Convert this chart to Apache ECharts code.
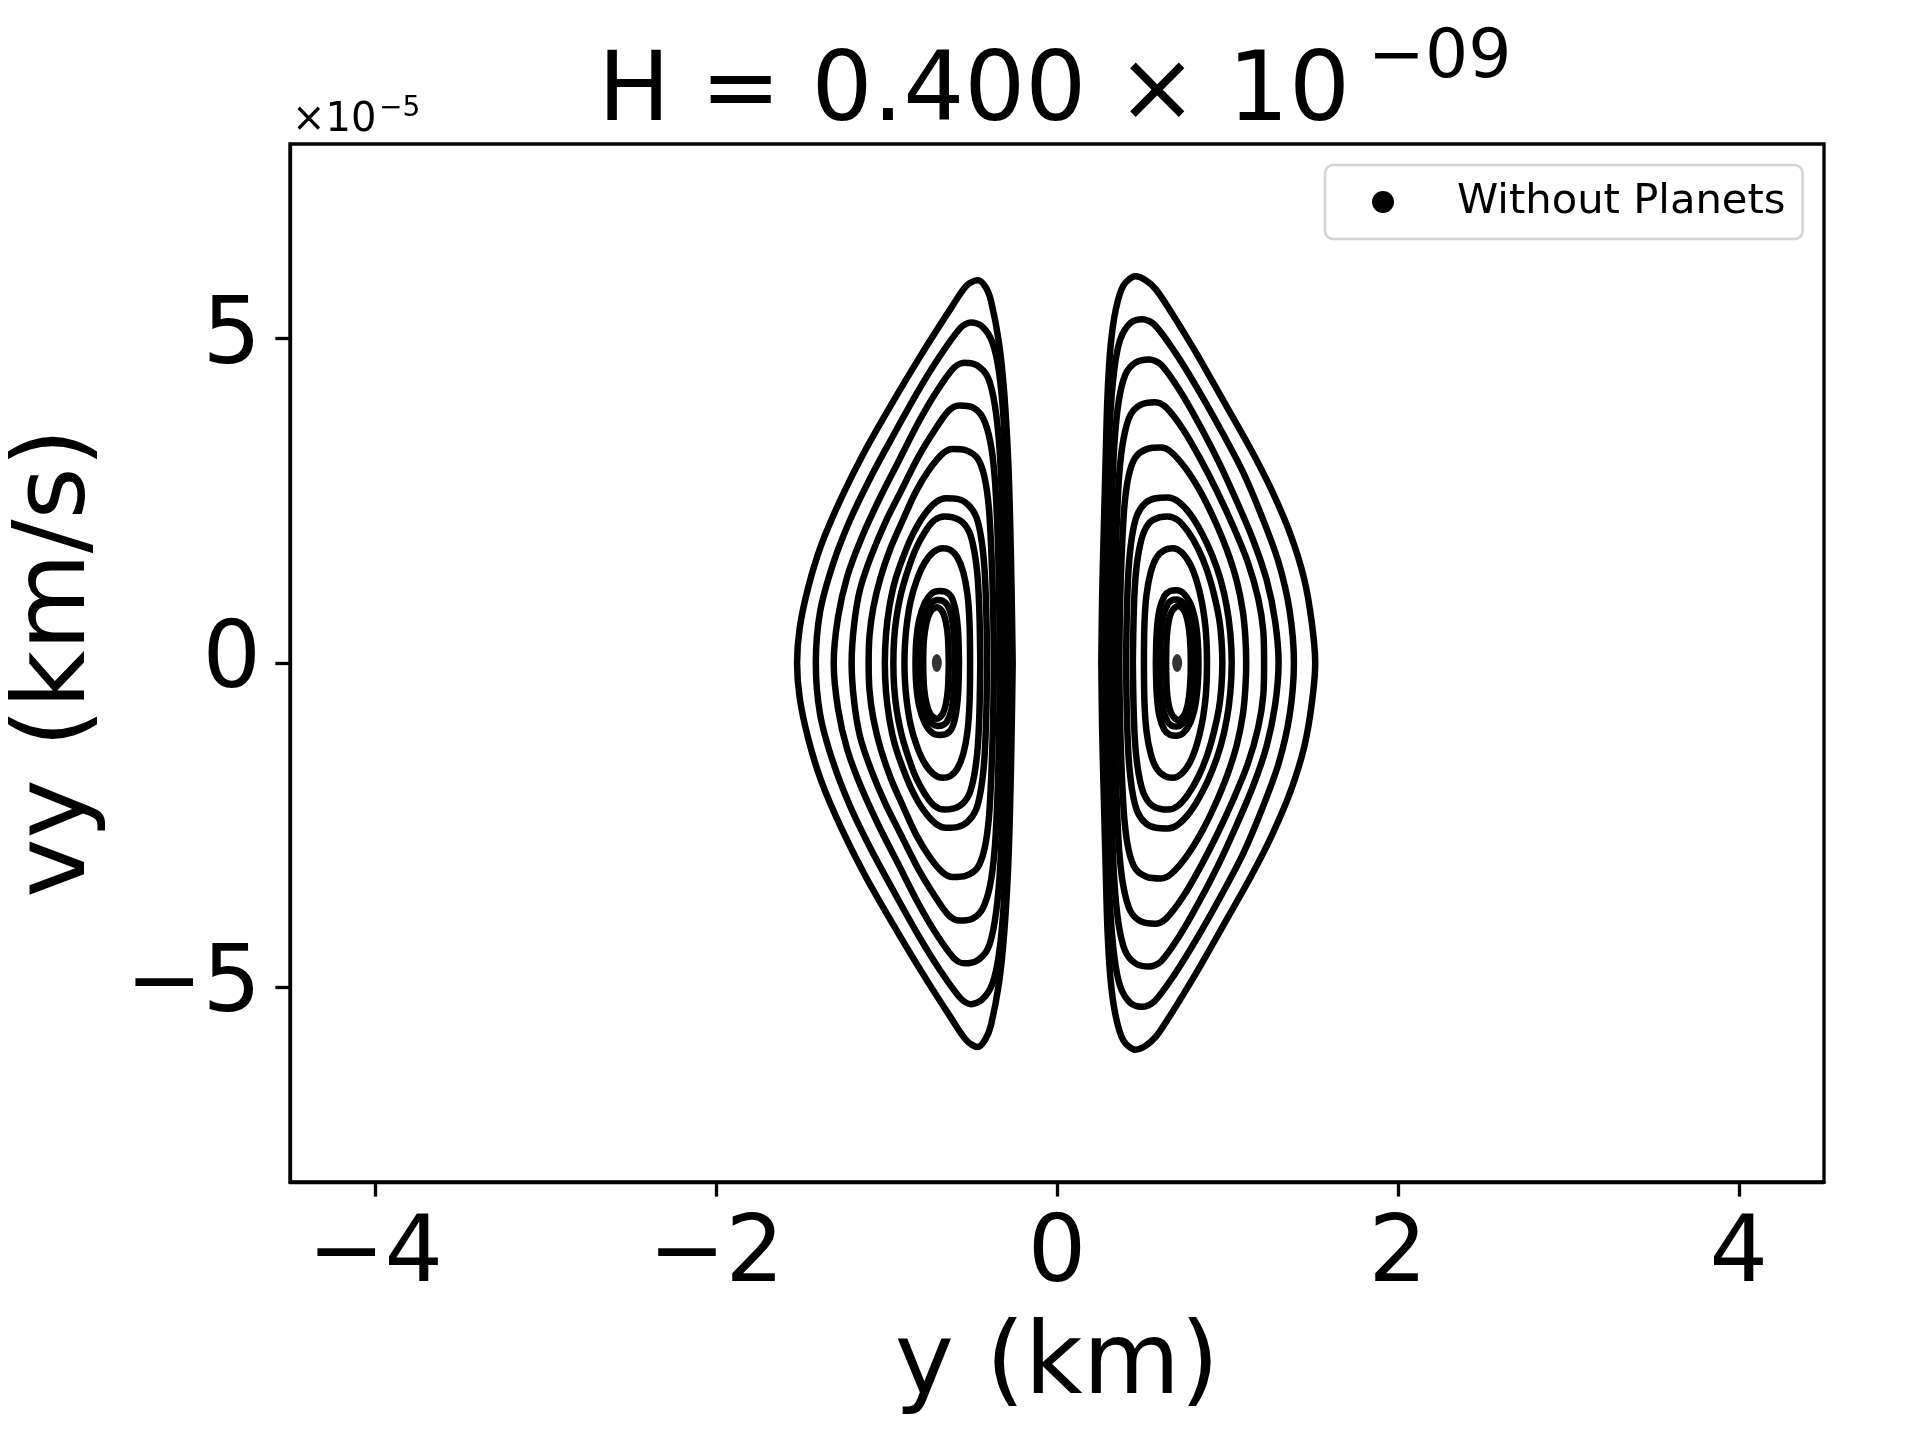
<!DOCTYPE html>
<html>
<head>
<meta charset="utf-8">
<script src="https://cdn.jsdelivr.net/npm/echarts@6/dist/echarts.min.js"></script>
<style>html,body{margin:0;padding:0;background:#fff;}#chart{width:1920px;height:1440px;}</style>
</head>
<body>
<div id="chart"></div>
<script>
// ---- data (y in km, vy in units of 1e-5 km/s) ----
const xTicks = [-4, -2, 0, 2, 4];
const yTicks = [-5, 0, 5];
const seriesName = 'Without Planets';
const titleMain = 'H = 0.400 × 10';
const titleExp = '−09';
const offsetMain = '×10';
const offsetExp = '−5';

const rightLoop1 = [[0.26,0],[0.265,1.05],[0.275,2.1],[0.285,3.1],[0.296,4.1],[0.315,4.9],[0.345,5.45],[0.39,5.82],[0.46,5.96],[0.52,5.9],[0.58,5.76],[0.66,5.45],[0.75,5.07],[0.83,4.72],[0.99,3.98],[1.14,3.28],[1.26,2.66],[1.37,1.98],[1.45,1.3],[1.495,0.62],[1.515,0],[1.495,-0.62],[1.45,-1.3],[1.37,-1.98],[1.26,-2.66],[1.14,-3.28],[0.99,-3.98],[0.83,-4.72],[0.75,-5.07],[0.66,-5.45],[0.58,-5.76],[0.52,-5.9],[0.46,-5.96],[0.39,-5.82],[0.345,-5.45],[0.315,-4.9],[0.296,-4.1],[0.285,-3.1],[0.275,-2.1],[0.265,-1.05],[0.26,0]];
const rightLoop2 = [[0.28,0],[0.285,1.3],[0.295,2.6],[0.31,3.7],[0.335,4.5],[0.37,4.98],[0.43,5.24],[0.5,5.3],[0.57,5.22],[0.69,4.8],[0.82,4.25],[0.96,3.6],[1.09,2.95],[1.2,2.27],[1.3,1.55],[1.365,0.8],[1.39,0],[1.365,-0.8],[1.3,-1.55],[1.2,-2.27],[1.09,-2.95],[0.96,-3.6],[0.82,-4.25],[0.69,-4.8],[0.57,-5.22],[0.5,-5.3],[0.43,-5.24],[0.37,-4.98],[0.335,-4.5],[0.31,-3.7],[0.295,-2.6],[0.285,-1.3],[0.28,0]];
const rightLoop3 = [[0.305,0],[0.31,1.2],[0.32,2.3],[0.335,3.3],[0.36,4.0],[0.4,4.44],[0.46,4.63],[0.54,4.68],[0.61,4.6],[0.72,4.2],[0.83,3.7],[0.945,3.12],[1.05,2.52],[1.15,1.9],[1.23,1.28],[1.28,0.64],[1.3,0],[1.28,-0.64],[1.23,-1.28],[1.15,-1.9],[1.05,-2.52],[0.945,-3.12],[0.83,-3.7],[0.72,-4.2],[0.61,-4.6],[0.54,-4.68],[0.46,-4.63],[0.4,-4.44],[0.36,-4.0],[0.335,-3.3],[0.32,-2.3],[0.31,-1.2],[0.305,0]];
const rightLoop4 = [[0.335,0],[0.34,1.1],[0.35,2.1],[0.365,2.9],[0.39,3.45],[0.43,3.82],[0.49,3.98],[0.575,4.02],[0.64,3.94],[0.74,3.6],[0.84,3.15],[0.94,2.64],[1.035,2.1],[1.12,1.55],[1.18,1.0],[1.21,0.5],[1.215,0],[1.21,-0.5],[1.18,-1.0],[1.12,-1.55],[1.035,-2.1],[0.94,-2.64],[0.84,-3.15],[0.74,-3.6],[0.64,-3.94],[0.575,-4.02],[0.49,-3.98],[0.43,-3.82],[0.39,-3.45],[0.365,-2.9],[0.35,-2.1],[0.34,-1.1],[0.335,0]];
const rightLoop5 = [[0.365,0],[0.37,0.9],[0.38,1.7],[0.395,2.4],[0.42,2.88],[0.46,3.17],[0.53,3.3],[0.61,3.32],[0.67,3.25],[0.76,2.98],[0.85,2.6],[0.93,2.17],[1.0,1.72],[1.055,1.26],[1.09,0.8],[1.105,0.4],[1.11,0],[1.105,-0.4],[1.09,-0.8],[1.055,-1.26],[1.0,-1.72],[0.93,-2.17],[0.85,-2.6],[0.76,-2.98],[0.67,-3.25],[0.61,-3.32],[0.53,-3.3],[0.46,-3.17],[0.42,-2.88],[0.395,-2.4],[0.38,-1.7],[0.37,-0.9],[0.365,0]];
const rightLoop6 = [[0.405,0],[0.41,0.8],[0.42,1.45],[0.44,1.95],[0.47,2.28],[0.52,2.47],[0.58,2.54],[0.65,2.55],[0.71,2.49],[0.78,2.3],[0.85,2.0],[0.91,1.66],[0.96,1.28],[0.995,0.88],[1.017,0.45],[1.025,0],[1.017,-0.45],[0.995,-0.88],[0.96,-1.28],[0.91,-1.66],[0.85,-2.0],[0.78,-2.3],[0.71,-2.49],[0.65,-2.55],[0.58,-2.54],[0.52,-2.47],[0.47,-2.28],[0.44,-1.95],[0.42,-1.45],[0.41,-0.8],[0.405,0]];
const rightLoop7 = [[0.445,0],[0.45,0.75],[0.46,1.3],[0.48,1.72],[0.51,2.02],[0.56,2.2],[0.65,2.26],[0.71,2.2],[0.77,2.02],[0.83,1.75],[0.88,1.43],[0.92,1.07],[0.95,0.7],[0.965,0.35],[0.97,0],[0.965,-0.35],[0.95,-0.7],[0.92,-1.07],[0.88,-1.43],[0.83,-1.75],[0.77,-2.02],[0.71,-2.2],[0.65,-2.26],[0.56,-2.2],[0.51,-2.02],[0.48,-1.72],[0.46,-1.3],[0.45,-0.75],[0.445,0]];
const rightLoop8 = [[0.51,0],[0.513,0.6],[0.525,1.05],[0.55,1.4],[0.585,1.63],[0.63,1.74],[0.68,1.77],[0.73,1.71],[0.78,1.53],[0.82,1.26],[0.85,0.94],[0.87,0.58],[0.878,0.28],[0.88,0],[0.878,-0.28],[0.87,-0.58],[0.85,-0.94],[0.82,-1.26],[0.78,-1.53],[0.73,-1.71],[0.68,-1.77],[0.63,-1.74],[0.585,-1.63],[0.55,-1.4],[0.525,-1.05],[0.513,-0.6],[0.51,0]];
const rightLoop9 = [[0.58,0],[0.585,0.47],[0.6,0.81],[0.63,1.03],[0.665,1.11],[0.7,1.12],[0.74,1.08],[0.78,0.93],[0.81,0.67],[0.825,0.36],[0.83,0],[0.825,-0.36],[0.81,-0.67],[0.78,-0.93],[0.74,-1.08],[0.7,-1.12],[0.665,-1.11],[0.63,-1.03],[0.6,-0.81],[0.585,-0.47],[0.58,0]];
const rightLoop10 = [[0.605,0],[0.61,0.44],[0.625,0.73],[0.65,0.91],[0.675,0.97],[0.7,0.98],[0.735,0.94],[0.77,0.79],[0.795,0.54],[0.807,0.27],[0.81,0],[0.807,-0.27],[0.795,-0.54],[0.77,-0.79],[0.735,-0.94],[0.7,-0.98],[0.675,-0.97],[0.65,-0.91],[0.625,-0.73],[0.61,-0.44],[0.605,0]];
const rightLoop11 = [[0.64,0],[0.644,0.4],[0.655,0.64],[0.675,0.8],[0.71,0.88],[0.745,0.81],[0.767,0.64],[0.78,0.38],[0.785,0],[0.78,-0.38],[0.767,-0.64],[0.745,-0.81],[0.71,-0.88],[0.675,-0.8],[0.655,-0.64],[0.644,-0.4],[0.64,0]];

const leftLoop1 = [[-0.26,0],[-0.266,1.05],[-0.274,2.08],[-0.286,3.11],[-0.309,4.14],[-0.339,4.91],[-0.387,5.58],[-0.42,5.8],[-0.465,5.9],[-0.53,5.82],[-0.622,5.47],[-0.797,4.75],[-0.973,3.98],[-1.129,3.26],[-1.266,2.54],[-1.383,1.82],[-1.461,1.15],[-1.51,0.53],[-1.525,0],[-1.51,-0.53],[-1.461,-1.15],[-1.383,-1.82],[-1.266,-2.54],[-1.129,-3.26],[-0.973,-3.98],[-0.797,-4.75],[-0.622,-5.47],[-0.53,-5.82],[-0.465,-5.92],[-0.42,-5.8],[-0.387,-5.58],[-0.339,-4.91],[-0.309,-4.14],[-0.286,-3.11],[-0.274,-2.08],[-0.266,-1.05],[-0.26,0]];
const leftLoop2 = [[-0.28,0],[-0.285,1.3],[-0.296,2.6],[-0.312,3.7],[-0.34,4.48],[-0.38,4.95],[-0.44,5.19],[-0.504,5.25],[-0.565,5.17],[-0.69,4.72],[-0.815,4.19],[-0.96,3.51],[-1.09,2.88],[-1.215,2.2],[-1.315,1.52],[-1.39,0.79],[-1.415,0],[-1.39,-0.79],[-1.315,-1.52],[-1.215,-2.2],[-1.09,-2.88],[-0.96,-3.51],[-0.815,-4.19],[-0.69,-4.72],[-0.565,-5.17],[-0.504,-5.26],[-0.44,-5.19],[-0.38,-4.95],[-0.34,-4.48],[-0.312,-3.7],[-0.296,-2.6],[-0.285,-1.3],[-0.28,0]];
const leftLoop3 = [[-0.305,0],[-0.31,1.2],[-0.32,2.3],[-0.337,3.3],[-0.365,3.98],[-0.405,4.4],[-0.47,4.59],[-0.543,4.63],[-0.605,4.55],[-0.71,4.17],[-0.815,3.7],[-0.935,3.08],[-1.04,2.54],[-1.145,1.94],[-1.23,1.34],[-1.285,0.7],[-1.31,0],[-1.285,-0.7],[-1.23,-1.34],[-1.145,-1.94],[-1.04,-2.54],[-0.935,-3.08],[-0.815,-3.7],[-0.71,-4.17],[-0.605,-4.55],[-0.543,-4.63],[-0.47,-4.59],[-0.405,-4.4],[-0.365,-3.98],[-0.337,-3.3],[-0.32,-2.3],[-0.31,-1.2],[-0.305,0]];
const leftLoop4 = [[-0.335,0],[-0.34,1.1],[-0.35,2.1],[-0.366,2.88],[-0.392,3.42],[-0.435,3.78],[-0.495,3.94],[-0.573,3.97],[-0.635,3.89],[-0.72,3.58],[-0.815,3.17],[-0.915,2.65],[-1.005,2.18],[-1.09,1.65],[-1.155,1.14],[-1.19,0.6],[-1.205,0],[-1.19,-0.6],[-1.155,-1.14],[-1.09,-1.65],[-1.005,-2.18],[-0.915,-2.65],[-0.815,-3.17],[-0.72,-3.58],[-0.635,-3.89],[-0.573,-3.97],[-0.495,-3.94],[-0.435,-3.78],[-0.392,-3.42],[-0.366,-2.88],[-0.35,-2.1],[-0.34,-1.1],[-0.335,0]];
const leftLoop5 = [[-0.37,0],[-0.375,0.9],[-0.385,1.7],[-0.4,2.4],[-0.425,2.86],[-0.465,3.15],[-0.535,3.28],[-0.612,3.3],[-0.67,3.23],[-0.75,2.98],[-0.83,2.63],[-0.905,2.2],[-0.975,1.78],[-1.035,1.32],[-1.078,0.85],[-1.1,0.42],[-1.105,0],[-1.1,-0.42],[-1.078,-0.85],[-1.035,-1.32],[-0.975,-1.78],[-0.905,-2.2],[-0.83,-2.63],[-0.75,-2.98],[-0.67,-3.23],[-0.612,-3.3],[-0.535,-3.28],[-0.465,-3.15],[-0.425,-2.86],[-0.4,-2.4],[-0.385,-1.7],[-0.375,-0.9],[-0.37,0]];
const leftLoop6 = [[-0.41,0],[-0.415,0.8],[-0.425,1.44],[-0.445,1.93],[-0.475,2.26],[-0.525,2.45],[-0.585,2.53],[-0.651,2.54],[-0.71,2.48],[-0.78,2.28],[-0.845,1.99],[-0.9,1.65],[-0.95,1.27],[-0.983,0.87],[-1.003,0.45],[-1.01,0],[-1.003,-0.45],[-0.983,-0.87],[-0.95,-1.27],[-0.9,-1.65],[-0.845,-1.99],[-0.78,-2.28],[-0.71,-2.48],[-0.651,-2.54],[-0.585,-2.53],[-0.525,-2.45],[-0.475,-2.26],[-0.445,-1.93],[-0.425,-1.44],[-0.415,-0.8],[-0.41,0]];
const leftLoop7 = [[-0.45,0],[-0.455,0.75],[-0.465,1.3],[-0.485,1.72],[-0.515,2.02],[-0.57,2.2],[-0.66,2.26],[-0.72,2.2],[-0.775,2.02],[-0.83,1.75],[-0.875,1.43],[-0.915,1.07],[-0.942,0.7],[-0.956,0.35],[-0.96,0],[-0.956,-0.35],[-0.942,-0.7],[-0.915,-1.07],[-0.875,-1.43],[-0.83,-1.75],[-0.775,-2.02],[-0.72,-2.2],[-0.66,-2.26],[-0.57,-2.2],[-0.515,-2.02],[-0.485,-1.72],[-0.465,-1.3],[-0.455,-0.75],[-0.45,0]];
const leftLoop8 = [[-0.51,0],[-0.513,0.6],[-0.525,1.05],[-0.55,1.4],[-0.585,1.63],[-0.625,1.74],[-0.67,1.77],[-0.725,1.71],[-0.78,1.53],[-0.825,1.26],[-0.86,0.94],[-0.882,0.58],[-0.892,0.28],[-0.895,0],[-0.892,-0.28],[-0.882,-0.58],[-0.86,-0.94],[-0.825,-1.26],[-0.78,-1.53],[-0.725,-1.71],[-0.67,-1.77],[-0.625,-1.74],[-0.585,-1.63],[-0.55,-1.4],[-0.525,-1.05],[-0.513,-0.6],[-0.51,0]];
const leftLoop9 = [[-0.575,0],[-0.58,0.47],[-0.595,0.81],[-0.62,1.02],[-0.655,1.1],[-0.69,1.11],[-0.735,1.07],[-0.775,0.93],[-0.808,0.67],[-0.825,0.36],[-0.83,0],[-0.825,-0.36],[-0.808,-0.67],[-0.775,-0.93],[-0.735,-1.07],[-0.69,-1.11],[-0.655,-1.1],[-0.62,-1.02],[-0.595,-0.81],[-0.58,-0.47],[-0.575,0]];
const leftLoop10 = [[-0.6,0],[-0.605,0.44],[-0.62,0.73],[-0.645,0.9],[-0.672,0.96],[-0.7,0.97],[-0.735,0.93],[-0.77,0.78],[-0.795,0.54],[-0.807,0.27],[-0.81,0],[-0.807,-0.27],[-0.795,-0.54],[-0.77,-0.78],[-0.735,-0.93],[-0.7,-0.97],[-0.672,-0.96],[-0.645,-0.9],[-0.62,-0.73],[-0.605,-0.44],[-0.6,0]];
const leftLoop11 = [[-0.635,0],[-0.64,0.4],[-0.652,0.63],[-0.672,0.79],[-0.705,0.86],[-0.74,0.8],[-0.765,0.63],[-0.78,0.38],[-0.785,0],[-0.78,-0.38],[-0.765,-0.63],[-0.74,-0.8],[-0.705,-0.86],[-0.672,-0.79],[-0.652,-0.63],[-0.64,-0.4],[-0.635,0]];

const fixedPoints = [[-0.705, 0], [0.705, 0]];

const loops = [rightLoop1, rightLoop2, rightLoop3, rightLoop4, rightLoop5, rightLoop6, rightLoop7, rightLoop8, rightLoop9, rightLoop10, rightLoop11,
  leftLoop1, leftLoop2, leftLoop3, leftLoop4, leftLoop5, leftLoop6, leftLoop7, leftLoop8, leftLoop9, leftLoop10, leftLoop11];

// ---- chart ----
const FONT = '"DejaVu Sans", "Liberation Sans", sans-serif';
const minusFmt = v => (v < 0 ? '−' + Math.abs(v) : String(v));

const series = loops.map((d) => ({
  type: 'line',
  name: seriesName,
  data: d,
  smooth: 0.3,
  showSymbol: false,
  symbol: 'circle',
  silent: true,
  clip: true,
  itemStyle: { color: '#000' },
  lineStyle: { color: '#000', width: 6.5 },
  z: 3
}));
series.push({
  type: 'scatter',
  name: seriesName,
  data: fixedPoints,
  symbol: 'circle',
  symbolSize: [10, 18],
  itemStyle: { color: '#000' },
  silent: true,
  z: 4
});

const chart = echarts.init(document.getElementById('chart'), null, { renderer: 'canvas', width: 1920, height: 1440 });
chart.setOption({
  animation: false,
  backgroundColor: '#fff',
  color: ['#000'],
  grid: { left: 289, right: 96, top: 144, bottom: 258, show: true, borderColor: '#000', borderWidth: 3.3, backgroundColor: 'transparent' },
  xAxis: {
    type: 'value', min: -4.5, max: 4.5,
    name: 'y (km)', nameLocation: 'middle', nameGap: 135,
    nameTextStyle: { fontSize: 100, fontFamily: FONT, color: '#000' },
    axisLine: { show: true, onZero: false, lineStyle: { color: '#000', width: 3.3 } },
    axisTick: { show: true, inside: false, length: 14.6, lineStyle: { color: '#000', width: 3.3 }, customValues: xTicks },
    axisLabel: { show: true, customValues: xTicks, formatter: minusFmt, fontSize: 92, fontFamily: FONT, color: '#000', margin: 29 },
    splitLine: { show: false }
  },
  yAxis: {
    type: 'value', min: -8, max: 8,
    name: 'vy (km/s)', nameLocation: 'middle', nameGap: 182, nameRotate: 90,
    nameTextStyle: { fontSize: 100, fontFamily: FONT, color: '#000' },
    axisLine: { show: true, onZero: false, lineStyle: { color: '#000', width: 3.3 } },
    axisTick: { show: true, inside: false, length: 14.6, lineStyle: { color: '#000', width: 3.3 }, customValues: yTicks },
    axisLabel: { show: true, customValues: yTicks, formatter: minusFmt, fontSize: 92, fontFamily: FONT, color: '#000', margin: 29 },
    splitLine: { show: false }
  },
  legend: {
    left: 1325, top: 165, orient: 'horizontal',
    padding: [12, 17, 12, 47],
    itemWidth: 22, itemHeight: 22, itemGap: 0,
    icon: 'circle',
    backgroundColor: '#fff', borderColor: '#d4d4d4', borderWidth: 2.5, borderRadius: 8,
    selectedMode: false,
    data: [{ name: seriesName, icon: 'circle', itemStyle: { color: '#000' } }],
    textStyle: { fontSize: 41.7, fontFamily: FONT, color: '#000', lineHeight: 50, padding: [0, 0, 0, 58] }
  },
  graphic: [
    { type: 'text', x: 1350, y: 95, z: 10, style: { text: titleMain, font: '96px ' + FONT, fill: '#000', align: 'right', verticalAlign: 'middle' } },
    { type: 'text', x: 1368, y: 59, z: 10, style: { text: titleExp, font: '68px ' + FONT, fill: '#000', align: 'left', verticalAlign: 'middle' } },
    { type: 'text', x: 292, y: 121, z: 10, style: { text: offsetMain, font: '40px ' + FONT, fill: '#000', align: 'left', verticalAlign: 'middle' } },
    { type: 'text', x: 379, y: 109, z: 10, style: { text: offsetExp, font: '28px ' + FONT, fill: '#000', align: 'left', verticalAlign: 'middle' } }
  ],
  series: series
});
</script>
</body>
</html>
